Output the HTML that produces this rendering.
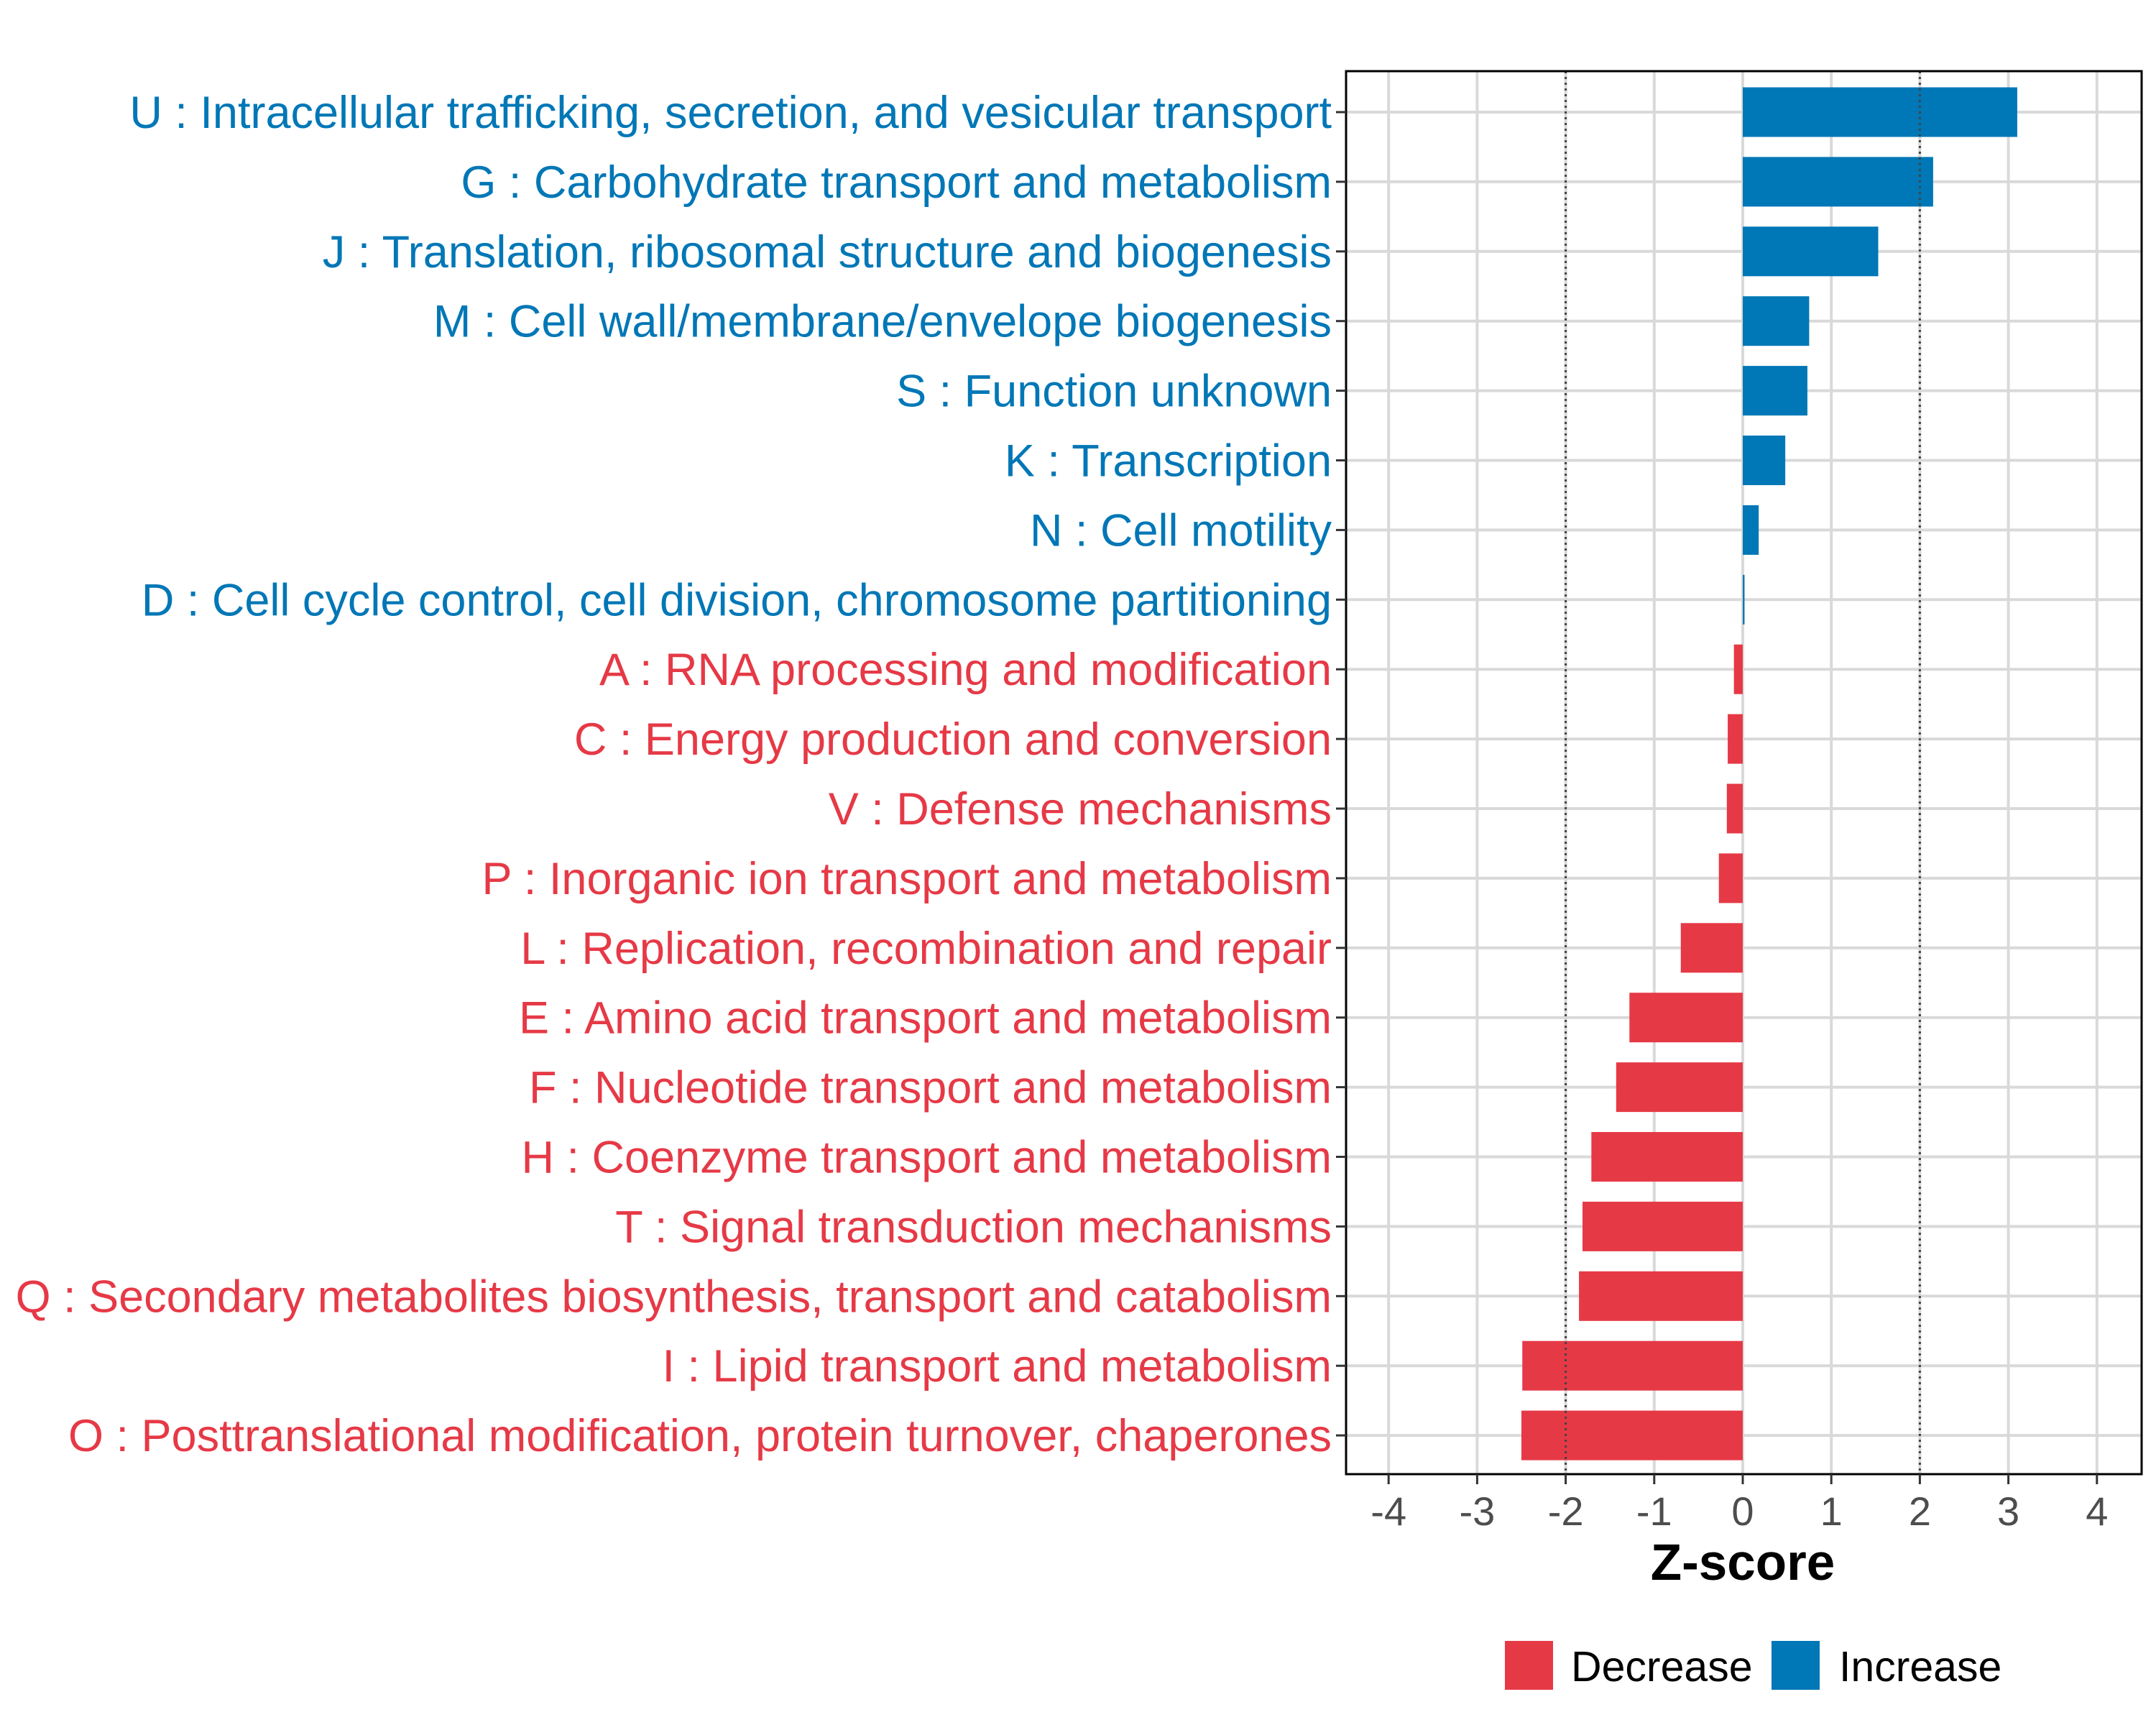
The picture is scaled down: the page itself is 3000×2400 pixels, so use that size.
<!DOCTYPE html>
<html><head><meta charset="utf-8"><style>
html,body{margin:0;padding:0;background:#fff;}
svg{display:block;font-family:"Liberation Sans",sans-serif;}
</style></head><body>
<svg id="chart" width="3000" height="2400" viewBox="0 0 3000 2400" xmlns="http://www.w3.org/2000/svg">
<rect x="0" y="0" width="3000" height="2400" fill="#fff"/>
<g id="grid"></g>
<g id="bars"></g>
<g id="refs"></g>
<rect x="1873" y="99" width="1107" height="1952" fill="none" stroke="#000" stroke-width="3"/>
<g id="ylabels"></g>
<g id="xticks"></g>
<text x="2425" y="2198" text-anchor="middle" font-size="71" font-weight="bold" fill="#000">Z-score</text>
<g>
<rect x="2094" y="2283" width="67" height="68" fill="#E63946"/>
<text x="2186" y="2339" font-size="59" fill="#000">Decrease</text>
<rect x="2465" y="2283" width="67" height="68" fill="#0077B6"/>
<text x="2559" y="2339" font-size="59" fill="#000">Increase</text>
</g>
</svg>
<script>
const categories = ["U : Intracellular trafficking, secretion, and vesicular transport","G : Carbohydrate transport and metabolism","J : Translation, ribosomal structure and biogenesis","M : Cell wall/membrane/envelope biogenesis","S : Function unknown","K : Transcription","N : Cell motility","D : Cell cycle control, cell division, chromosome partitioning","A : RNA processing and modification","C : Energy production and conversion","V : Defense mechanisms","P : Inorganic ion transport and metabolism","L : Replication, recombination and repair","E : Amino acid transport and metabolism","F : Nucleotide transport and metabolism","H : Coenzyme transport and metabolism","T : Signal transduction mechanisms","Q : Secondary metabolites biosynthesis, transport and catabolism","I : Lipid transport and metabolism","O : Posttranslational modification, protein turnover, chaperones"];
const zscores = [3.1,2.15,1.53,0.75,0.73,0.48,0.18,0.02,-0.1,-0.17,-0.18,-0.27,-0.7,-1.28,-1.43,-1.71,-1.81,-1.85,-2.49,-2.5];
const xTicks = [-4,-3,-2,-1,0,1,2,3,4];
const refLines = [-2,2];

const NS="http://www.w3.org/2000/svg";
const X0=2425, UNIT=123.2, Y0=156, STEP=96.9, BH=69, PL=1873, PR=2980, PT=99, PB=2051;
const RED="#E63946", BLUE="#0077B6";
function xs(v){return X0+v*UNIT;}
function ys(i){return Y0+i*STEP;}
function mk(tag,attrs,parent){const e=document.createElementNS(NS,tag);for(const k in attrs)e.setAttribute(k,attrs[k]);parent.appendChild(e);return e;}
const grid=document.getElementById('grid'),bars=document.getElementById('bars'),refs=document.getElementById('refs'),yl=document.getElementById('ylabels'),xt=document.getElementById('xticks');
xTicks.forEach(t=>{
  const l=mk('line',{x1:xs(t),x2:xs(t),y1:PT,y2:PB,stroke:'#d9d9d9','stroke-width':4},grid);
  
  
  const tk=mk('line',{x1:xs(t),x2:xs(t),y1:PB,y2:PB+14,stroke:'#333','stroke-width':3},xt);
  
  
  const tx=mk('text',{x:xs(t),y:2122,'text-anchor':'middle','font-size':56,fill:'#4d4d4d'},xt);
  tx.textContent=String(t);
  
  
});
categories.forEach((c,i)=>{
  const y=ys(i), v=zscores[i], col=v>=0?BLUE:RED;
  const g=mk('line',{x1:PL,x2:PR,y1:y,y2:y,stroke:'#d9d9d9','stroke-width':4},grid);
  
  
  const r=mk('rect',{x:Math.min(xs(0),xs(v)),y:y-BH/2,width:Math.max(Math.abs(xs(v)-xs(0)),2),height:BH,fill:col},bars);
  
  
  const tk=mk('line',{x1:PL-14,x2:PL,y1:y,y2:y,stroke:'#333','stroke-width':3},yl);
  
  
  const t=mk('text',{x:1853,y:y+22,'text-anchor':'end','font-size':63,fill:col},yl);
  t.textContent=c;
  
  
});
refLines.forEach(v=>{
  const l=mk('line',{x1:xs(v),x2:xs(v),y1:PT,y2:PB,stroke:'#444','stroke-width':3,'stroke-dasharray':'3 5'},refs);
  
  
});
</script>
</body></html>
